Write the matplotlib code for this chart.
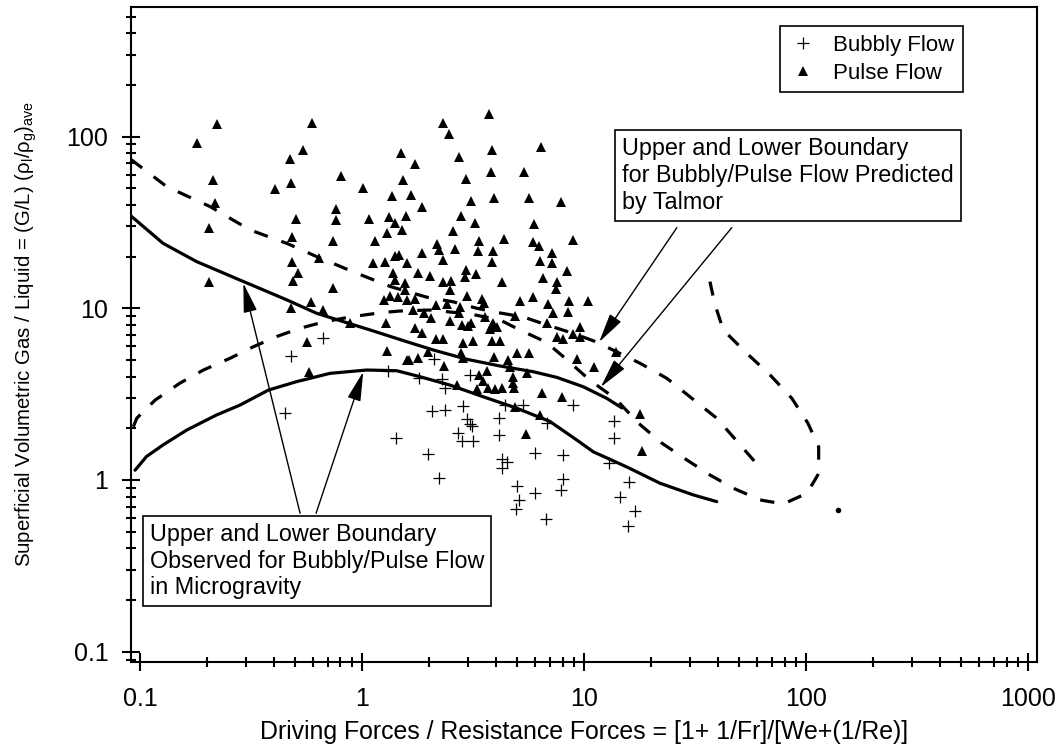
import matplotlib
matplotlib.use('Agg')
import matplotlib.pyplot as plt
from matplotlib.ticker import LogLocator, FixedLocator, FuncFormatter, NullFormatter
from matplotlib.lines import Line2D

plt.rcParams['font.family'] = ['Liberation Sans', 'DejaVu Sans']
plt.rcParams['mathtext.fontset'] = 'custom'
plt.rcParams['mathtext.rm'] = 'Liberation Sans'
plt.rcParams['mathtext.it'] = 'Liberation Sans'

# ---------------- data ----------------
pulse = [
    (0.181, 91.4), (0.223, 118), (0.213, 55.9), (0.218, 40.9), (0.204, 29.5), (0.204, 14.3),
    (0.593, 120), (0.544, 83.6), (0.475, 73.8), (0.477, 53.9), (0.404, 49.7), (0.804, 59.0),
    (1.01, 50.2), (0.761, 38.0), (0.761, 32.7), (0.503, 33.0), (0.482, 26.1), (0.740, 24.5),
    (0.638, 19.5), (0.482, 18.7), (0.516, 16.0), (0.487, 14.4), (0.740, 13.1), (0.587, 10.9),
    (0.479, 10.0), (0.669, 9.77), (0.883, 8.18), (0.564, 6.39), (0.577, 4.27), (1.07, 33.0),
    (1.14, 24.8), (1.12, 18.4), (1.28, 8.18), (1.30, 5.66), (1.59, 5.00), (1.50, 80.6),
    (1.53, 55.9), (1.37, 45.1), (1.32, 33.9), (1.41, 31.5), (1.58, 34.5), (1.52, 28.6),
    (1.29, 27.6), (1.27, 18.7), (1.41, 20.2), (1.47, 20.4), (1.59, 18.3), (1.38, 16.0),
    (1.41, 14.6), (1.56, 14.0), (1.25, 11.2), (1.34, 11.8), (1.45, 11.7), (1.59, 11.2),
    (1.56, 12.8), (1.67, 45.7), (1.73, 69.0), (1.86, 38.7), (3.73, 135), (2.31, 120),
    (2.47, 103), (6.40, 87.3), (3.86, 83.6), (2.73, 75.7), (3.81, 61.9), (5.38, 62.5),
    (2.93, 56.6), (3.09, 42.3), (3.94, 43.7), (5.67, 43.7), (7.88, 41.4), (2.79, 34.6),
    (3.23, 31.3), (5.97, 31.0), (2.56, 28.2), (3.37, 24.7), (4.36, 25.4), (8.95, 25.0),
    (5.91, 24.2), (6.27, 23.2), (2.18, 23.7), (2.23, 21.9), (2.62, 22.2), (3.32, 21.6),
    (3.88, 21.6), (7.17, 21.1), (1.87, 21.1), (2.31, 19.1), (3.84, 18.7), (6.34, 18.9),
    (7.19, 18.3), (8.41, 16.5), (1.79, 16.1), (2.02, 15.5), (2.94, 16.7), (2.91, 15.2),
    (3.26, 15.8), (2.32, 14.3), (2.51, 14.4), (4.29, 14.3), (6.51, 15.1), (7.53, 14.3),
    (7.46, 12.9), (2.49, 12.7), (2.96, 11.8), (3.48, 11.4), (5.15, 11.1), (5.87, 11.6),
    (8.59, 11.1), (10.4, 11.1), (6.91, 10.6), (3.54, 10.8), (1.73, 11.4), (2.15, 10.5),
    (1.70, 9.77), (1.90, 9.35), (2.04, 8.74), (2.49, 8.47), (2.74, 9.43), (3.09, 8.18),
    (3.58, 8.93), (3.90, 8.24), (4.04, 7.75), (3.77, 7.55), (6.79, 8.18), (9.59, 7.81),
    (3.01, 7.88), (4.89, 9.02), (7.23, 9.35), (8.50, 9.48), (1.73, 7.65), (1.86, 7.15),
    (2.15, 6.60), (2.32, 6.60), (2.84, 6.30), (3.17, 6.48), (3.84, 6.48), (4.19, 6.48),
    (7.53, 6.83), (8.02, 6.60), (9.59, 6.83), (8.95, 7.08), (1.99, 5.59), (2.79, 5.47),
    (2.86, 5.11), (3.94, 5.23), (4.98, 5.51), (5.65, 5.51), (1.62, 5.00), (1.79, 5.11),
    (2.35, 4.61), (4.53, 5.00), (4.64, 4.57), (3.67, 4.33), (5.52, 4.22), (4.80, 4.00),
    (3.38, 4.09), (3.52, 3.79), (4.80, 3.66), (4.85, 3.42), (3.71, 3.42), (3.97, 3.38),
    (4.26, 3.42), (3.31, 3.38), (6.45, 3.22), (7.98, 3.03), (4.89, 2.67), (6.34, 2.39),
    (5.48, 1.85), (9.27, 5.05), (11.1, 4.57), (14.0, 5.59), (17.8, 2.42), (18.2, 1.48),
    (2.67, 3.57), (2.76, 10.2), (2.41, 10.6), (2.83, 8.00), (3.84, 8.00),
]

bubbly = [
    (0.669, 6.69), (0.479, 5.27), (1.31, 4.31), (0.449, 2.47), (1.43, 1.75), (1.99, 1.41),
    (2.23, 1.03), (1.81, 3.91), (2.06, 2.53), (2.37, 2.57), (2.86, 2.69), (2.97, 2.28),
    (3.08, 2.12), (3.14, 2.06), (2.70, 1.87), (2.81, 1.69), (3.15, 1.68), (2.29, 3.85),
    (2.36, 3.42), (2.10, 5.09), (3.08, 4.09), (4.15, 2.29), (4.15, 1.82), (4.29, 1.33),
    (4.51, 1.28), (4.26, 1.17), (6.02, 1.43), (8.07, 1.40), (4.98, 0.923), (6.02, 0.843),
    (5.10, 0.765), (4.94, 0.675), (8.07, 1.01), (7.90, 0.875), (6.72, 0.595), (13.7, 2.22),
    (13.6, 1.75), (13.0, 1.25), (16.0, 0.967), (14.5, 0.793), (16.9, 0.663), (15.8, 0.538),
    (8.95, 2.72), (5.29, 2.73), (4.41, 2.73), (6.79, 2.16),
]

# observed boundaries in microgravity (solid)
obs_upper_x = [0.0901, 0.127, 0.180, 0.282, 0.359, 0.458, 0.625, 0.824, 1.087, 1.59, 2.10,
               2.96, 4.19, 5.91, 7.54, 9.93, 12.65, 14.8]
obs_upper_y = [34.9, 23.9, 18.7, 14.6, 12.8, 11.2, 9.35, 8.36, 7.48, 6.39, 5.71,
               5.05, 4.61, 4.27, 3.96, 3.49, 2.99, 2.63]
obs_lower_x = [0.0950, 0.107, 0.127, 0.162, 0.221, 0.282, 0.379, 0.508, 0.718, 1.05, 1.43,
               1.82, 2.49, 3.52, 4.97, 7.03, 9.27, 11.0, 15.6, 22.0, 31.1, 39.6]
obs_lower_y = [1.14, 1.37, 1.60, 1.95, 2.39, 2.73, 3.34, 3.74, 4.18, 4.37, 4.33,
               4.00, 3.57, 3.05, 2.62, 2.19, 1.71, 1.46, 1.19, 0.957, 0.818, 0.748]

# Talmor predicted boundaries (dashed)
tal_upper_x = [0.0908, 0.132, 0.207, 0.313, 0.458, 0.625, 0.914, 1.34, 1.96, 2.58, 3.29,
               4.19, 5.33, 6.79, 8.95, 11.4, 17.9, 23.6, 30.6, 39.6, 48.7, 60.0]
tal_upper_y = [73.8, 51.1, 39.1, 28.6, 23.9, 20.0, 16.3, 13.4, 11.6, 10.9, 10.0,
               9.39, 8.90, 8.0, 7.14, 6.36, 4.78, 3.91, 2.99, 2.29, 1.69, 1.24]
tal_lower_x = [0.0933, 0.0967, 0.117, 0.151, 0.193, 0.254, 0.324, 0.413, 0.526, 0.670, 0.883,
               1.21, 1.48, 2.02, 3.06, 4.19, 5.04, 6.74, 8.21, 10.6, 13.8, 17.6, 22.4, 29.0,
               36.9, 47.1, 62.1, 79.0, 101, 114, 114, 102, 86.3, 68.9, 53.1, 42.4, 38.9, 36.9]
tal_lower_y = [2.04, 2.29, 2.92, 3.66, 4.37, 5.11, 5.97, 6.85, 7.65, 8.32, 8.90,
               9.42, 9.64, 9.77, 9.27, 8.55, 7.57, 6.36, 5.13, 3.82, 2.99, 2.14, 1.64, 1.31,
               1.07, 0.895, 0.765, 0.725, 0.837, 1.09, 1.56, 2.14, 2.99, 4.09, 5.59, 7.48, 10.5, 14.3]
tal_dot_x = [140]
tal_dot_y = [0.67]

x_ticks = [0.1, 1, 10, 100, 1000]
y_ticks = [0.1, 1, 10, 100]

# ---------------- figure ----------------
fig = plt.figure(figsize=(10.59, 7.54), dpi=100)
ax = fig.add_axes([0.12342, 0.12241, 0.85552, 0.86870])
ax.set_xscale('log')
ax.set_yscale('log')
ax.set_xlim(0.0908, 1094)
ax.set_ylim(0.0874, 571)

lw_curve = 2.3
ax.plot(obs_upper_x, obs_upper_y, color='black', lw=lw_curve, zorder=2, solid_capstyle='round')
ax.plot(obs_lower_x, obs_lower_y, color='black', lw=lw_curve, zorder=2, solid_capstyle='round')
ax.plot(tal_upper_x, tal_upper_y, color='black', lw=lw_curve, ls=(0, (4.5, 4.5)), zorder=2)
ax.plot(tal_lower_x, tal_lower_y, color='black', lw=lw_curve, ls=(0, (4.5, 4.5)), zorder=2)
ax.plot(tal_dot_x, tal_dot_y, 'o', color='black', ms=3, zorder=2)

ax.plot([p[0] for p in bubbly], [p[1] for p in bubbly], '+', color='black', ms=8,
        mew=0.9, ls='none', zorder=3)
ax.plot([p[0] for p in pulse], [p[1] for p in pulse], '^', color='black', ms=7.5,
        mew=0, ls='none', zorder=3)

# ticks
ax.xaxis.set_major_locator(FixedLocator(x_ticks))
ax.yaxis.set_major_locator(FixedLocator(y_ticks))
for a in (ax.xaxis, ax.yaxis):
    a.set_minor_locator(LogLocator(base=10, subs=range(2, 10), numticks=30))
    a.set_minor_formatter(NullFormatter())
fmt = FuncFormatter(lambda v, p: f'{v:g}')
ax.xaxis.set_major_formatter(fmt)
ax.yaxis.set_major_formatter(fmt)
ax.tick_params(which='major', direction='inout', length=13, width=1.5, labelsize=18,
               top=False, right=False, color='black')
ax.tick_params(which='minor', direction='inout', length=7.5, width=1.5,
               top=False, right=False)
ax.tick_params(axis='x', which='major', pad=12)
ax.tick_params(axis='y', which='major', pad=9.5)
for s in ax.spines.values():
    s.set_linewidth(1.5)

ax.set_xlabel('Driving Forces / Resistance Forces = [1+ 1/Fr]/[We+(1/Re)]', fontsize=17.9,
              labelpad=6)
ax.set_ylabel(r'Superficial Volumetric Gas / Liquid = (G/L) (ρ$\mathregular{_l}$/ρ$\mathregular{_g}$)$\mathregular{_{ave}}$',
              fontsize=14.7, labelpad=20)

# legend
handles = [Line2D([], [], marker='+', color='black', ls='none', ms=9, mew=0.9),
           Line2D([], [], marker='^', color='black', ls='none', ms=7.5, mew=0)]
leg = ax.legend(handles, ['Bubbly Flow', 'Pulse Flow'], loc='upper right',
                bbox_to_anchor=(0.919, 0.9705), borderaxespad=0, fontsize=16,
                fancybox=False, edgecolor='black', framealpha=1, handlelength=1.3,
                handletextpad=0.7, borderpad=0.4, labelspacing=0.3)
leg.get_frame().set_linewidth(1.2)

# annotation boxes
box = dict(boxstyle='square,pad=0.3', facecolor='white', edgecolor='black', lw=1.2)
ax.text(0.0210, 0.2118, 'Upper and Lower Boundary\nObserved for Bubbly/Pulse Flow\nin Microgravity',
        transform=ax.transAxes, ha='left', va='top', fontsize=16.8, bbox=box,
        linespacing=1.2, zorder=5)
ax.text(0.5427, 0.8005, 'Upper and Lower Boundary\nfor Bubbly/Pulse Flow Predicted\nby Talmor',
        transform=ax.transAxes, ha='left', va='top', fontsize=16.8, bbox=box,
        linespacing=1.2, zorder=5)

aprops = dict(arrowstyle='-|>,head_length=1.3,head_width=0.3', color='black', lw=1.0,
              mutation_scale=14, shrinkA=0, shrinkB=0)
ax.annotate('', xy=(0.292, 14.0), xytext=(0.526, 0.640), arrowprops=aprops, zorder=4)
ax.annotate('', xy=(1.013, 4.27), xytext=(0.621, 0.640), arrowprops=aprops, zorder=4)
ax.annotate('', xy=(11.7, 6.36), xytext=(26.2, 29.5), arrowprops=aprops, zorder=4)
ax.annotate('', xy=(11.9, 3.48), xytext=(46.3, 29.5), arrowprops=aprops, zorder=4)

fig.savefig('out.png', dpi=100)
